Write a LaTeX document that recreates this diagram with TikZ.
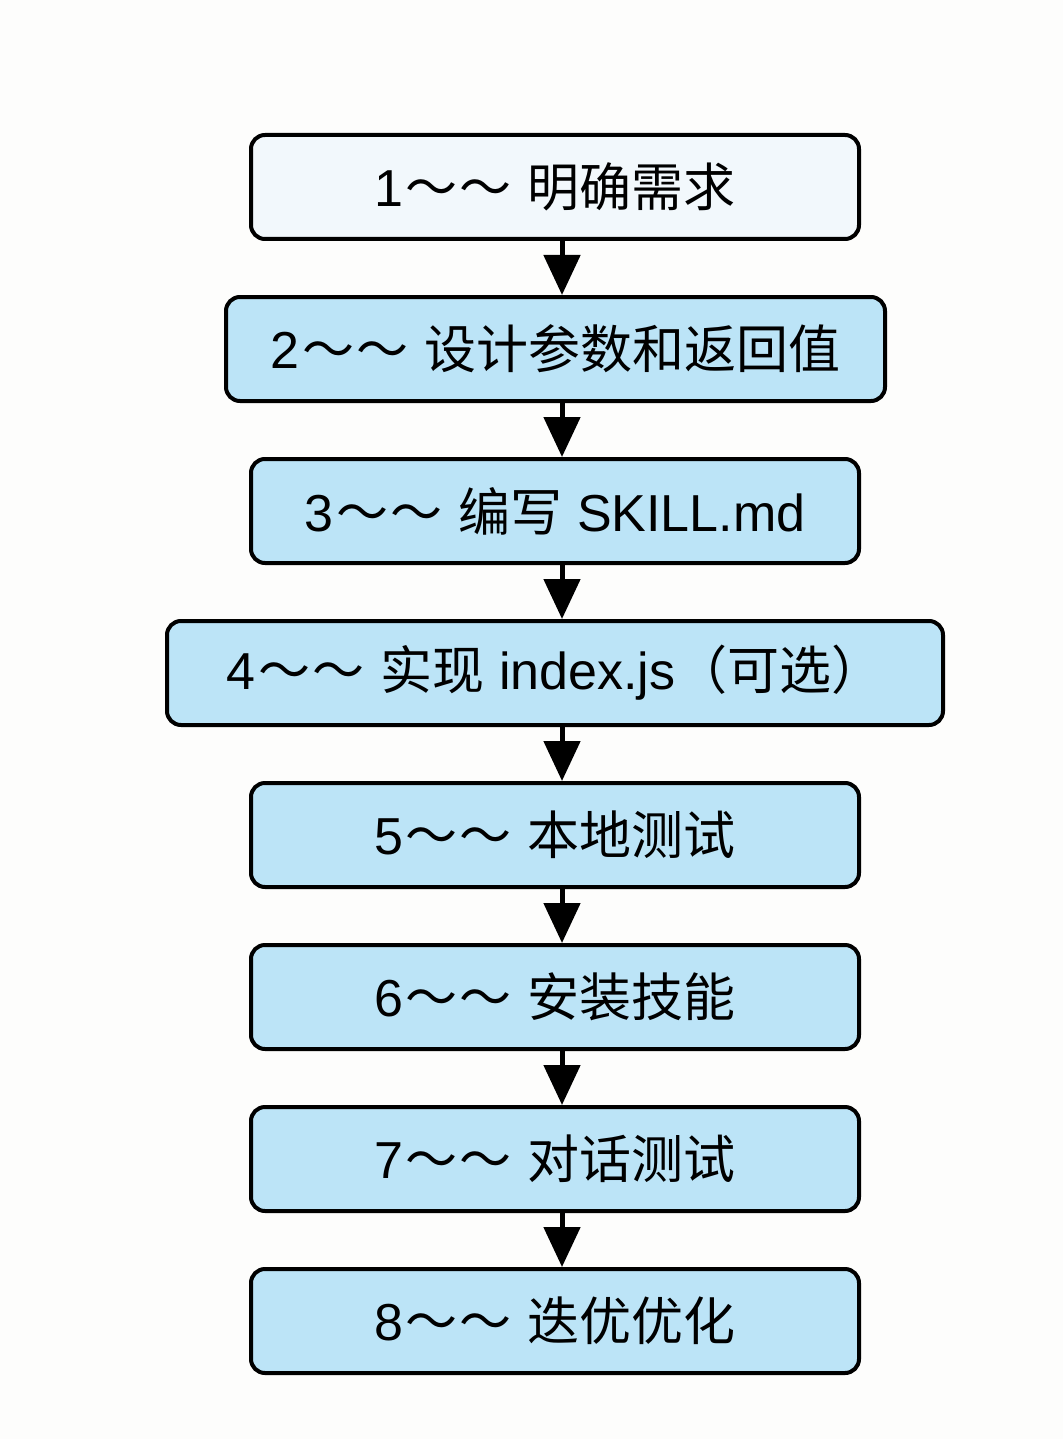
\documentclass[tikz,border=0pt]{standalone}
\usepackage{fontspec}
\setmainfont{Liberation Sans}
\newfontfamily\cjk{Noto Sans CJK SC}
\usetikzlibrary{arrows.meta}
\definecolor{boxblue}{RGB}{188,228,247}
\definecolor{boxpale}{RGB}{242,248,252}
\definecolor{bgwhite}{RGB}{253,253,252}
\newcommand{\tld}{\hspace{3pt}{\cjk ～}\hspace{2pt}{\cjk ～}\hspace{16pt}}
\tikzset{
  stepbox/.style={draw=black, line width=4pt, rounded corners=14pt, fill=boxblue,
    minimum height=104pt, inner sep=0pt, font=\fontsize{52}{60}\selectfont},
  flowarrow/.style={line width=5pt, -{Triangle[width=36pt,length=40pt]}}
}
\begin{document}
\begin{tikzpicture}[x=1pt,y=-1pt]
\fill[bgwhite] (0,0) rectangle (1063,1439);
\useasboundingbox (0,0) rectangle (1063,1439);
\node[stepbox, fill=boxpale, minimum width=608pt] (b1) at (555,187) {1\tld{\cjk 明确需求}};
\node[stepbox, minimum width=659pt] (b2) at (555.5,349) {2\tld{\cjk 设计参数和返回值}};
\node[stepbox, minimum width=608pt] (b3) at (555,511) {3\tld{\cjk 编写} SKILL.md};
\node[stepbox, minimum width=776pt] (b4) at (555,673) {4\tld{\cjk 实现} index.js{\cjk （可选）}};
\node[stepbox, minimum width=608pt] (b5) at (555,835) {5\tld{\cjk 本地测试}};
\node[stepbox, minimum width=608pt] (b6) at (555,997) {6\tld{\cjk 安装技能}};
\node[stepbox, minimum width=608pt] (b7) at (555,1159) {7\tld{\cjk 对话测试}};
\node[stepbox, minimum width=608pt] (b8) at (555,1321) {8\tld{\cjk 迭优优化}};
\coordinate (ax) at (562,0);
\foreach \a/\b in {b1/b2,b2/b3,b3/b4,b4/b5,b5/b6,b6/b7,b7/b8}
  \draw[flowarrow] (\a.south -| ax) -- (\b.north -| ax);
\end{tikzpicture}
\end{document}
